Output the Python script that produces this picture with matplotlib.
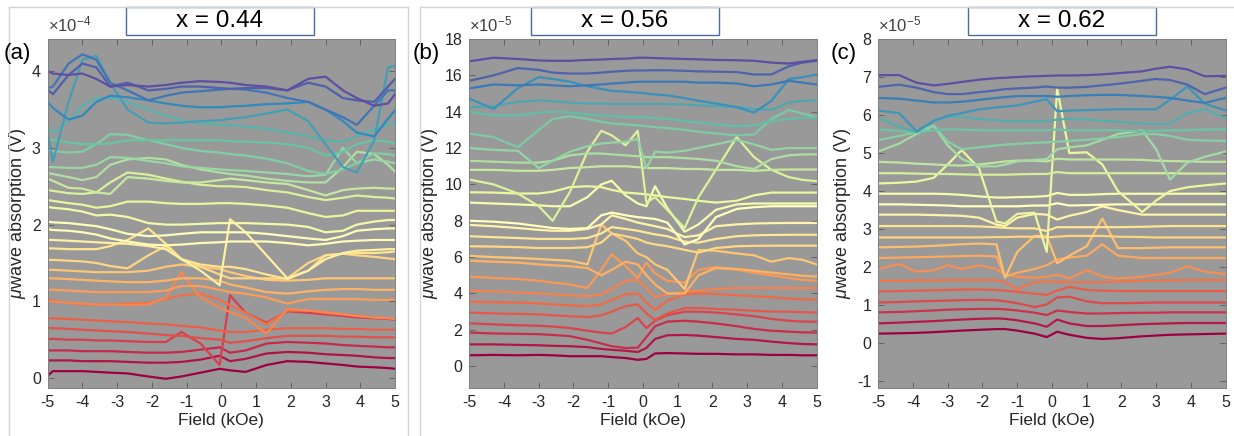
import numpy as np
import matplotlib
matplotlib.use('Agg')
import matplotlib.pyplot as plt
from matplotlib.patches import Rectangle
from matplotlib.lines import Line2D

plt.rcParams['font.family'] = ['Liberation Sans', 'DejaVu Sans']
plt.rcParams['mathtext.fontset'] = 'custom'
plt.rcParams['mathtext.rm'] = 'Liberation Sans'
plt.rcParams['mathtext.it'] = 'Liberation Sans:italic'
plt.rcParams['axes.unicode_minus'] = False

# ---- panel (a): x = 0.44, values in 1e-4 V ----
field_a = [-5, -4.85, -4.4, -4.0, -3.6, -3.2, -2.7, -2.1, -1.6, -1.15, -0.6, -0.05,
           0.25, 0.7, 1.3, 1.9, 2.5, 3.0, 3.5, 3.9, 4.4, 4.8, 5]
curves_a = [
    [0.03, 0.09, 0.09, 0.09, 0.08, 0.07, 0.06, 0.02, -0.01, 0.02, 0.07, 0.12, 0.1, 0.08, 0.17, 0.22, 0.21, 0.19, 0.17, 0.15, 0.14, 0.13, 0.12],
    [0.23, 0.23, 0.23, 0.22, 0.22, 0.22, 0.21, 0.2, 0.2, 0.21, 0.24, 0.29, 0.22, 0.25, 0.32, 0.34, 0.33, 0.31, 0.3, 0.29, 0.27, 0.26, 0.26],
    [0.36, 0.36, 0.36, 0.35, 0.35, 0.35, 0.34, 0.33, 0.33, 0.34, 0.37, 0.4, 0.33, 0.36, 0.45, 0.47, 0.46, 0.45, 0.43, 0.42, 0.41, 0.4, 0.4],
    [0.51, 0.51, 0.5, 0.5, 0.49, 0.49, 0.48, 0.47, 0.47, 0.6, 0.45, 0.17, 1.08, 0.85, 0.72, 0.87, 0.85, 0.83, 0.81, 0.79, 0.78, 0.77, 0.76],
    [0.65, 0.65, 0.64, 0.63, 0.62, 0.61, 0.6, 0.58, 0.56, 0.55, 0.52, 0.5, 0.46, 0.48, 0.52, 0.55, 0.55, 0.55, 0.54, 0.54, 0.53, 0.53, 0.53],
    [0.78, 0.78, 0.77, 0.76, 0.75, 0.74, 0.73, 0.71, 0.7, 0.68, 0.66, 0.62, 0.6, 0.6, 0.63, 0.65, 0.65, 0.65, 0.64, 0.64, 0.63, 0.63, 0.63],
    [1.02, 1.01, 0.98, 0.96, 0.96, 0.96, 0.97, 0.98, 1.03, 1.08, 1.1, 1.02, 0.95, 0.85, 0.7, 0.88, 0.88, 0.85, 0.83, 0.81, 0.79, 0.78, 0.77],
    [1.0, 1.0, 0.98, 0.97, 0.96, 0.96, 0.95, 0.96, 1.05, 1.38, 1.05, 0.92, 0.86, 0.78, 0.58, 0.9, 0.88, 0.86, 0.83, 0.81, 0.79, 0.78, 0.77],
    [1.15, 1.15, 1.14, 1.13, 1.12, 1.12, 1.12, 1.12, 1.14, 1.2, 1.2, 1.15, 1.12, 1.1, 1.05, 0.97, 1.03, 1.03, 1.03, 1.03, 1.02, 1.02, 1.02],
    [1.3, 1.3, 1.29, 1.28, 1.27, 1.26, 1.25, 1.25, 1.27, 1.3, 1.3, 1.27, 1.22, 1.18, 1.12, 1.1, 1.13, 1.15, 1.16, 1.16, 1.15, 1.15, 1.15],
    [1.41, 1.41, 1.4, 1.39, 1.38, 1.38, 1.38, 1.4, 1.45, 1.48, 1.45, 1.42, 1.38, 1.33, 1.28, 1.27, 1.28, 1.3, 1.3, 1.3, 1.3, 1.3, 1.3],
    [1.54, 1.54, 1.53, 1.52, 1.5, 1.46, 1.43, 1.6, 1.72, 1.55, 1.45, 1.35, 1.3, 1.3, 1.3, 1.3, 1.5, 1.6, 1.62, 1.6, 1.58, 1.56, 1.55],
    [1.69, 1.69, 1.68, 1.68, 1.68, 1.72, 1.8, 1.95, 1.75, 1.55, 1.48, 1.45, 1.45, 1.42, 1.35, 1.29, 1.4, 1.6, 1.62, 1.63, 1.63, 1.64, 1.65],
    [1.8, 1.8, 1.79, 1.78, 1.77, 1.76, 1.75, 1.72, 1.68, 1.55, 1.4, 1.21, 2.07, 1.9, 1.6, 1.3, 1.4, 1.55, 1.63, 1.66, 1.67, 1.68, 1.68],
    [1.94, 1.93, 1.92, 1.9, 1.87, 1.82, 1.78, 1.74, 1.73, 1.74, 1.76, 1.77, 1.78, 1.78, 1.78, 1.76, 1.73, 1.75, 1.78, 1.79, 1.8, 1.8, 1.8],
    [2.04, 2.03, 2.02, 2.0, 1.98, 1.94, 1.88, 1.85, 1.86, 1.88, 1.9, 1.9, 1.9, 1.9, 1.88, 1.85, 1.82, 1.8, 1.85, 1.92, 1.94, 1.95, 1.95],
    [2.23, 2.22, 2.2, 2.17, 2.12, 2.13, 2.1, 2.02, 2.0, 2.0, 2.01, 2.02, 2.02, 2.02, 2.01, 2.0, 1.97, 1.9, 1.92, 2.0, 2.04, 2.06, 2.06],
    [2.32, 2.31, 2.28, 2.26, 2.22, 2.24, 2.3, 2.3, 2.28, 2.27, 2.27, 2.28, 2.28, 2.27, 2.25, 2.22, 2.15, 2.1, 2.12, 2.18, 2.18, 2.18, 2.18],
    [2.45, 2.44, 2.41, 2.4, 2.42, 2.55, 2.68, 2.65, 2.6, 2.56, 2.52, 2.5, 2.5, 2.49, 2.45, 2.42, 2.36, 2.32, 2.35, 2.38, 2.36, 2.35, 2.34],
    [2.6, 2.57, 2.48, 2.47, 2.42, 2.4, 2.62, 2.6, 2.57, 2.55, 2.55, 2.58, 2.6, 2.58, 2.55, 2.53, 2.45, 2.38, 2.45, 2.47, 2.48, 2.47, 2.47],
    [2.67, 2.66, 2.62, 2.58, 2.62, 2.78, 2.85, 2.87, 2.85, 2.78, 2.72, 2.68, 2.66, 2.64, 2.6, 2.57, 2.55, 2.55, 2.75, 2.95, 2.92, 2.78, 2.69],
    [2.75, 2.75, 2.74, 2.74, 2.78, 2.88, 2.87, 2.83, 2.8, 2.76, 2.74, 2.72, 2.71, 2.7, 2.68, 2.66, 2.63, 2.65, 3.0, 2.8, 2.85, 2.82, 2.8],
    [2.97, 2.96, 2.94, 2.95, 3.05, 3.18, 3.17, 3.1, 3.05, 3.0, 2.96, 2.94, 2.92, 2.9, 2.86, 2.8, 2.7, 2.66, 2.72, 2.8, 2.93, 2.92, 2.9],
    [3.12, 3.1, 3.07, 3.05, 3.05, 3.06, 3.1, 3.1, 3.1, 3.1, 3.1, 3.1, 3.09, 3.08, 3.07, 3.05, 3.0, 2.9, 2.95, 3.05, 3.1, 3.08, 3.06],
    [3.27, 3.2, 3.35, 3.55, 3.65, 3.65, 3.6, 3.5, 3.42, 3.36, 3.32, 3.3, 3.3, 3.28, 3.25, 3.2, 3.15, 3.1, 3.08, 3.15, 3.25, 3.3, 3.34],
    [3.2, 2.82, 3.6, 4.15, 4.2, 3.85, 3.5, 3.33, 3.32, 3.33, 3.35, 3.36, 3.38, 3.4, 3.45, 3.5, 3.35, 3.05, 2.75, 2.68, 3.1, 4.05, 4.07],
    [3.6, 3.52, 3.37, 3.42, 3.6, 3.68, 3.66, 3.62, 3.58, 3.55, 3.53, 3.53, 3.54, 3.55, 3.57, 3.58, 3.6, 3.5, 3.35, 3.2, 3.15, 3.38, 3.49],
    [3.78, 3.8, 4.1, 4.22, 4.15, 3.85, 3.75, 3.62, 3.68, 3.72, 3.74, 3.76, 3.77, 3.76, 3.72, 3.65, 3.6, 3.5, 3.4, 3.3, 3.55, 3.75, 3.75],
    [3.76, 3.7, 3.95, 4.1, 4.05, 3.8, 3.85, 3.75, 3.77, 3.8, 3.8, 3.78, 3.77, 3.78, 3.78, 3.75, 3.85, 3.8, 3.65, 3.62, 3.6, 3.8, 3.9],
    [4.0, 3.97, 3.95, 3.97, 3.9, 3.8, 3.82, 3.8, 3.82, 3.85, 3.87, 3.86, 3.85, 3.82, 3.8, 3.75, 3.9, 3.93, 3.75, 3.65, 3.55, 3.58, 3.7],
]

# ---- panel (b): x = 0.56, values in 1e-5 V ----
field_b = [-5, -4.3, -3.6, -3.0, -2.6, -2.1, -1.6, -1.2, -0.9, -0.5, -0.15, 0.1,
           0.35, 0.7, 1.2, 1.6, 2.1, 2.7, 3.2, 3.7, 4.2, 4.6, 5]
curves_b = [
    [0.6, 0.62, 0.6, 0.62, 0.6, 0.55, 0.55, 0.55, 0.5, 0.45, 0.35, 0.4, 0.7, 0.72, 0.7, 0.68, 0.68, 0.65, 0.65, 0.62, 0.62, 0.6, 0.6],
    [1.2, 1.2, 1.17, 1.15, 1.12, 1.1, 1.05, 0.95, 0.9, 0.85, 0.78, 1.0, 1.5, 1.7, 1.72, 1.68, 1.6, 1.5, 1.45, 1.35, 1.27, 1.22, 1.2],
    [1.85, 1.8, 1.78, 1.76, 1.72, 1.65, 1.45, 1.25, 1.1, 1.0, 1.02, 1.6, 2.2, 2.45, 2.5, 2.45, 2.35, 2.2, 2.05, 1.95, 1.9, 1.86, 1.85],
    [2.36, 2.3, 2.25, 2.22, 2.18, 2.1, 1.95, 1.85, 1.8, 2.15, 2.65, 2.1, 2.5, 2.8, 3.0, 3.0, 2.95, 2.85, 2.75, 2.6, 2.5, 2.45, 2.45],
    [2.95, 2.9, 2.88, 2.85, 2.8, 2.75, 2.7, 2.8, 3.0, 3.3, 3.4, 2.9, 2.55, 2.9, 3.2, 3.2, 3.15, 3.1, 3.05, 3.0, 3.0, 2.97, 2.95],
    [3.55, 3.52, 3.5, 3.45, 3.4, 3.35, 3.3, 3.4, 3.65, 3.95, 4.0, 3.5, 3.1, 3.6, 3.95, 4.0, 3.98, 3.9, 3.85, 3.8, 3.72, 3.68, 3.65],
    [4.15, 4.12, 4.05, 4.0, 3.95, 3.9, 3.85, 3.95, 4.25, 4.7, 4.75, 4.3, 3.8, 3.95, 4.1, 4.15, 4.25, 4.3, 4.3, 4.3, 4.3, 4.3, 4.3],
    [4.93, 4.85, 4.8, 4.7, 4.6, 4.5, 4.3, 5.3, 6.15, 5.5, 4.85, 5.7, 5.1, 4.7, 4.6, 5.3, 5.45, 5.3, 5.15, 5.0, 4.85, 4.75, 4.7],
    [5.8, 5.75, 5.7, 5.6, 5.55, 5.5, 5.4, 5.0, 5.3, 5.75, 5.6, 5.0, 4.5, 4.0, 4.0, 5.0, 5.4, 5.35, 5.25, 5.15, 5.05, 4.97, 4.93],
    [6.07, 6.0, 5.95, 5.9, 5.85, 5.8, 5.6, 7.8, 7.3, 6.9, 6.2, 6.0, 5.6, 5.3, 4.25, 6.4, 6.35, 6.2, 6.1, 5.75, 5.95, 5.85, 5.6],
    [6.6, 6.58, 6.55, 6.5, 6.5, 6.5, 6.55, 6.8, 7.3, 7.15, 7.0, 6.8, 6.7, 6.6, 6.4, 6.25, 6.5, 6.6, 6.62, 6.63, 6.63, 6.63, 6.63],
    [7.15, 7.1, 7.05, 7.0, 7.0, 7.0, 7.05, 7.3, 7.65, 7.55, 7.45, 7.35, 7.25, 7.15, 6.85, 6.8, 7.0, 7.15, 7.2, 7.22, 7.23, 7.23, 7.23],
    [7.77, 7.7, 7.6, 7.5, 7.45, 7.45, 7.55, 7.8, 8.3, 8.1, 7.9, 7.8, 7.7, 7.55, 7.1, 7.2, 7.7, 7.8, 7.85, 7.87, 7.88, 7.88, 7.88],
    [8.0, 7.95, 7.85, 7.7, 7.6, 7.55, 7.6, 8.3, 8.45, 8.3, 8.2, 8.15, 8.1, 7.9, 6.7, 7.0, 8.2, 8.65, 8.75, 8.8, 8.8, 8.8, 8.8],
    [9.0, 8.95, 8.9, 8.85, 8.8, 8.8, 9.3, 10.0, 10.2, 9.4, 8.95, 8.8, 9.9, 8.7, 7.4, 7.8, 8.6, 8.9, 8.95, 8.95, 8.95, 8.95, 8.95],
    [9.57, 9.55, 9.5, 9.5, 9.6, 9.85, 9.9, 9.85, 9.7, 9.55, 9.5, 9.45, 9.4, 9.3, 9.2, 9.1, 9.0, 9.1, 9.4, 9.55, 9.55, 9.55, 9.55],
    [10.27, 10.0, 9.5, 8.8, 8.0, 9.6, 11.8, 12.95, 12.7, 12.15, 12.95, 9.0, 9.3, 8.6, 7.6, 9.3, 10.8, 12.6, 11.5, 10.8, 10.4, 10.25, 10.18],
    [10.8, 10.8, 10.75, 10.75, 10.8, 10.9, 10.95, 11.0, 11.0, 11.0, 10.95, 10.9, 10.9, 10.9, 10.85, 10.85, 10.8, 10.8, 10.75, 10.8, 10.82, 10.82, 10.82],
    [11.3, 11.25, 11.2, 11.2, 11.3, 11.6, 11.7, 11.7, 11.65, 11.6, 11.55, 11.5, 11.5, 11.5, 11.45, 11.4, 11.3, 11.0, 10.85, 11.4, 11.6, 11.65, 11.65],
    [12.0, 11.9, 11.85, 10.9, 11.3, 11.8, 12.1, 12.25, 12.3, 12.35, 12.5, 10.9, 11.8, 11.75, 11.85, 12.0, 12.2, 12.45, 12.2, 11.9, 12.0, 12.0, 12.0],
    [12.8, 12.6, 12.05, 13.0, 13.6, 13.75, 13.6, 13.45, 13.35, 13.3, 13.25, 13.2, 13.15, 13.1, 13.0, 12.9, 12.8, 12.7, 12.75, 13.6, 14.1, 13.9, 13.7],
    [13.99, 13.8, 13.8, 13.95, 14.0, 13.95, 13.85, 13.8, 13.75, 13.72, 13.7, 13.68, 13.65, 13.6, 13.5, 13.4, 13.3, 13.2, 13.25, 13.5, 13.6, 13.65, 13.68],
    [14.23, 14.3, 14.55, 14.62, 14.58, 14.5, 14.45, 14.45, 14.42, 14.42, 14.42, 14.42, 14.42, 14.42, 14.4, 14.35, 14.3, 14.25, 14.15, 14.1, 14.5, 14.6, 14.62],
    [14.72, 14.15, 15.3, 15.9, 15.8, 15.65, 15.4, 15.25, 15.15, 15.1, 15.05, 15.0, 14.95, 14.9, 14.75, 14.6, 14.45, 14.25, 13.95, 14.6, 15.8, 15.9, 16.05],
    [15.28, 15.5, 15.45, 15.5, 15.45, 15.4, 15.45, 15.5, 15.55, 15.6, 15.65, 15.65, 15.65, 15.65, 15.65, 15.6, 15.6, 15.55, 15.4, 15.5, 15.7, 15.6, 15.5],
    [15.7, 16.0, 16.4, 16.3, 16.15, 16.1, 16.1, 16.15, 16.2, 16.25, 16.27, 16.27, 16.28, 16.28, 16.25, 16.22, 16.2, 16.18, 16.05, 16.05, 16.5, 16.7, 16.8],
    [16.77, 16.97, 16.9, 16.82, 16.8, 16.8, 16.85, 16.87, 16.9, 16.92, 16.97, 16.97, 16.95, 16.93, 16.9, 16.88, 16.85, 16.83, 16.8, 16.7, 16.65, 16.75, 16.84],
]

# ---- panel (c): x = 0.62, values in 1e-5 V ----
field_c = [-5, -4.4, -3.9, -3.4, -3.0, -2.6, -2.1, -1.6, -1.35, -1.0, -0.5, -0.15,
           0.15, 0.5, 1.0, 1.45, 1.9, 2.6, 3.0, 3.4, 3.9, 4.4, 5]
curves_c = [
    [0.25, 0.26, 0.27, 0.29, 0.31, 0.33, 0.35, 0.37, 0.37, 0.33, 0.25, 0.16, 0.3, 0.22, 0.14, 0.11, 0.13, 0.18, 0.2, 0.22, 0.23, 0.24, 0.25],
    [0.52, 0.54, 0.56, 0.58, 0.6, 0.62, 0.64, 0.65, 0.64, 0.6, 0.52, 0.43, 0.62, 0.52, 0.45, 0.45, 0.47, 0.5, 0.51, 0.52, 0.53, 0.53, 0.53],
    [0.81, 0.82, 0.84, 0.86, 0.88, 0.89, 0.9, 0.9, 0.89, 0.86, 0.8, 0.74, 0.86, 0.82, 0.78, 0.78, 0.79, 0.8, 0.8, 0.81, 0.81, 0.81, 0.81],
    [1.07, 1.08, 1.1, 1.11, 1.12, 1.13, 1.14, 1.13, 1.1, 1.05, 0.95, 1.02, 1.2, 1.22, 1.1, 1.05, 1.05, 1.06, 1.07, 1.07, 1.07, 1.07, 1.07],
    [1.36, 1.37, 1.38, 1.39, 1.4, 1.41, 1.41, 1.4, 1.38, 1.35, 1.3, 1.27, 1.38, 1.48, 1.4, 1.38, 1.37, 1.37, 1.37, 1.37, 1.37, 1.37, 1.37],
    [1.64, 1.64, 1.65, 1.65, 1.66, 1.66, 1.66, 1.66, 1.6, 1.42, 1.6, 1.62, 1.62, 1.6, 1.6, 1.6, 1.62, 1.64, 1.65, 1.65, 1.66, 1.66, 1.66],
    [1.95, 2.08, 1.88, 1.92, 2.05, 1.95, 2.05, 1.95, 1.8, 1.75, 1.72, 1.75, 1.8, 1.7, 1.92, 1.75, 1.7, 1.75, 1.8, 1.85, 2.02, 1.88, 1.82],
    [2.24, 2.25, 2.26, 2.27, 2.28, 2.29, 2.3, 2.28, 1.75, 1.85, 1.95, 2.05, 2.2, 2.25, 2.3, 2.6, 2.3, 2.24, 2.24, 2.24, 2.24, 2.24, 2.24],
    [2.52, 2.53, 2.54, 2.56, 2.58, 2.6, 2.62, 2.6, 1.72, 2.4, 2.82, 2.82, 2.1, 2.3, 2.55, 3.28, 2.5, 2.5, 2.51, 2.52, 2.52, 2.52, 2.52],
    [2.78, 2.78, 2.78, 2.78, 2.78, 2.78, 2.78, 2.79, 2.79, 2.8, 2.8, 2.78, 2.8, 2.82, 2.82, 2.82, 2.8, 2.79, 2.78, 2.78, 2.78, 2.78, 2.78],
    [3.08, 3.08, 3.08, 3.08, 3.08, 3.08, 3.07, 3.05, 3.03, 3.02, 3.02, 2.95, 3.05, 3.05, 3.05, 3.05, 3.05, 3.06, 3.07, 3.08, 3.08, 3.08, 3.08],
    [3.38, 3.38, 3.38, 3.37, 3.36, 3.35, 3.3, 3.12, 3.08, 3.3, 3.4, 3.38, 3.25, 3.35, 3.45, 3.6, 3.5, 3.38, 3.38, 3.38, 3.38, 3.38, 3.38],
    [3.65, 3.65, 3.64, 3.63, 3.62, 3.6, 3.6, 3.6, 3.6, 3.6, 3.62, 3.62, 3.68, 3.62, 3.63, 3.64, 3.65, 3.65, 3.65, 3.65, 3.65, 3.65, 3.65],
    [3.93, 3.93, 3.93, 3.93, 3.92, 3.9, 3.86, 3.83, 3.83, 3.84, 3.85, 3.87, 3.95, 3.9, 3.9, 3.92, 3.93, 3.93, 3.93, 3.93, 3.93, 3.93, 3.93],
    [4.2, 4.22, 4.25, 4.35, 4.7, 5.08, 4.6, 3.2, 3.15, 3.4, 3.43, 2.4, 6.7, 5.0, 5.02, 4.7, 4.0, 3.45, 3.75, 4.0, 4.1, 4.15, 4.2],
    [4.47, 4.47, 4.46, 4.45, 4.45, 4.44, 4.43, 4.43, 4.43, 4.44, 4.45, 4.45, 4.5, 4.47, 4.47, 4.47, 4.47, 4.47, 4.47, 4.47, 4.46, 4.46, 4.46],
    [4.77, 4.75, 4.72, 4.7, 4.68, 4.67, 4.7, 4.75, 4.78, 4.8, 4.8, 4.78, 4.85, 4.83, 4.83, 4.83, 4.83, 4.82, 4.8, 4.79, 4.78, 4.77, 4.77],
    [5.04, 5.25, 5.5, 5.72, 5.2, 4.85, 4.65, 4.65, 4.7, 4.78, 4.82, 4.84, 5.1, 5.15, 5.2, 5.35, 5.5, 5.6, 5.1, 4.3, 4.75, 4.9, 5.04],
    [5.34, 5.45, 5.55, 5.72, 5.3, 5.1, 5.15, 5.2, 5.22, 5.24, 5.27, 5.28, 5.3, 5.32, 5.35, 5.38, 5.42, 5.5, 5.5, 5.45, 5.35, 5.33, 5.32],
    [5.62, 5.58, 5.55, 5.6, 5.62, 5.62, 5.6, 5.6, 5.6, 5.6, 5.6, 5.6, 5.62, 5.6, 5.6, 5.6, 5.6, 5.58, 5.58, 5.6, 5.6, 5.62, 5.62],
    [5.92, 5.7, 5.55, 5.85, 5.95, 5.95, 5.9, 5.86, 5.84, 5.83, 5.83, 5.84, 5.88, 5.9, 5.88, 5.85, 5.82, 5.78, 5.75, 5.78, 6.05, 6.15, 5.92],
    [6.12, 6.05, 5.57, 5.85, 5.98, 6.05, 6.15, 6.2, 6.22, 6.25, 6.35, 6.42, 6.1, 6.12, 6.13, 6.14, 6.15, 6.15, 6.15, 6.4, 6.75, 6.3, 6.12],
    [6.45, 6.43, 6.38, 6.33, 6.33, 6.35, 6.4, 6.45, 6.47, 6.5, 6.5, 6.5, 6.48, 6.5, 6.52, 6.53, 6.53, 6.5, 6.48, 6.45, 6.38, 6.32, 6.45],
    [6.74, 6.8, 6.72, 6.6, 6.55, 6.55, 6.6, 6.65, 6.68, 6.7, 6.72, 6.75, 6.72, 6.72, 6.74, 6.78, 6.82, 6.9, 6.95, 6.92, 6.8, 6.55, 6.72],
    [7.05, 7.05, 6.85, 6.78, 6.82, 6.87, 6.93, 6.97, 6.98, 7.0, 7.02, 7.03, 7.04, 7.04, 7.05, 7.07, 7.1, 7.15, 7.22, 7.27, 7.2, 7.02, 7.03],
]

titles = ['x = 0.44', 'x = 0.56', 'x = 0.62']
letters = ['(a)', '(b)', '(c)']
exponents = [-4, -5, -5]
ylims = [(-0.13, 4.42), (-1.2, 18), (-1.18, 8)]
yticks = [[0, 1, 2, 3, 4], list(range(0, 19, 2)), list(range(-1, 9))]
xticks = [-5, -4, -3, -2, -1, 0, 1, 2, 3, 4, 5]

W, H = 1234, 436
fig = plt.figure(figsize=(W / 100, H / 100), dpi=100)

# light frame lines of the original figure panels
frame = '#d4d4d4'
for x0, x1 in [(9, 408), (420, 1234)]:
    fig.add_artist(Line2D([x0 / W, x1 / W], [1 - 7 / H, 1 - 7 / H], color=frame, lw=1))
for xv in [9, 408, 420]:
    fig.add_artist(Line2D([xv / W, xv / W], [0, 1 - 7 / H], color=frame, lw=1))

ax_lefts = [47.7, 469.3, 878.3]
box_lefts = [125.7, 530.7, 967.7]
letter_x = [17, 426, 844]
data = [(field_a, curves_a), (field_b, curves_b), (field_c, curves_c)]

for i, (field, curves) in enumerate(data):
    ax = fig.add_axes([ax_lefts[i] / W, 48 / H, 347.3 / W, 349 / H])
    ax.set_facecolor('#999999')
    colors = plt.cm.Spectral(np.linspace(0, 1, len(curves)))
    for col, y in zip(colors, curves):
        ax.plot(field, y, color=col, lw=1.6)
    ax.set_xlim(-5, 5)
    ax.set_ylim(*ylims[i])
    ax.set_xticks(xticks)
    ax.set_yticks(yticks[i])
    ax.tick_params(direction='in', top=True, right=True, length=4, width=0.6,
                   color='#5a5a5a', labelcolor='#262626', labelsize=11.5, pad=5)
    for s in ax.spines.values():
        s.set_color('#808080')
        s.set_linewidth(0.7)
    ax.set_xlabel('Field (kOe)', fontsize=12.5, color='#262626', labelpad=2)
    ax.set_ylabel(r'$\mu$wave absorption (V)', fontsize=13, color='#262626', labelpad=3)
    ax.text(0.0, 1.012, r'$\times$10$^{%d}$' % exponents[i], transform=ax.transAxes,
            ha='left', va='bottom', fontsize=12, color='#404040')

    fig.add_artist(Rectangle((box_lefts[i] / W, 1 - 35 / H), 188 / W, 28 / H,
                             transform=fig.transFigure, facecolor='white',
                             edgecolor='#4a6c9b', lw=1.0))
    fig.text((box_lefts[i] + 94) / W, 1 - 21 / H, titles[i], ha='center', va='center',
             fontsize=17.5, color='black')
    fig.text(letter_x[i] / W, 1 - 53 / H, letters[i], ha='center', va='center',
             fontsize=16, color='black')

fig.savefig('out.png', dpi=100)
